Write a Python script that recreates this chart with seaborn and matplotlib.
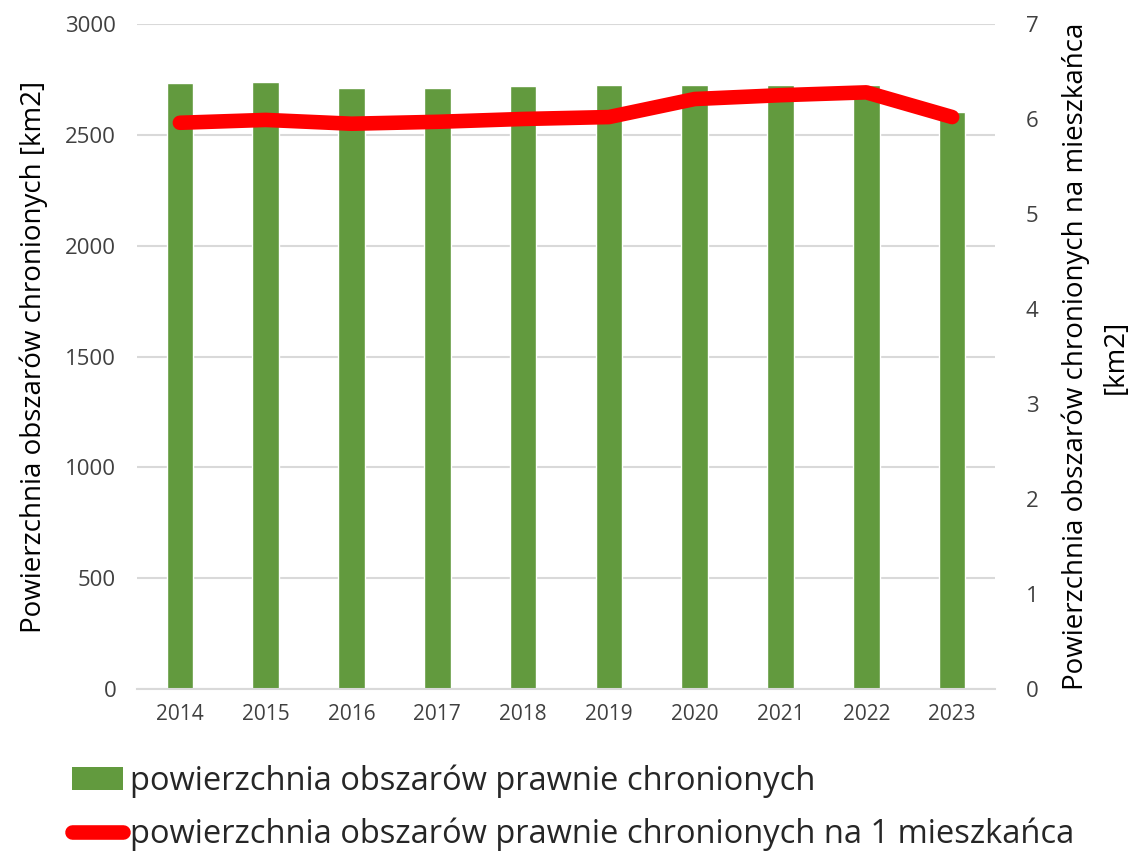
import matplotlib
matplotlib.use("Agg")
import matplotlib.pyplot as plt
import seaborn as sns
import pandas as pd
from matplotlib.lines import Line2D
from matplotlib.patches import Patch

years = ["2014", "2015", "2016", "2017", "2018", "2019", "2020", "2021", "2022", "2023"]
area = [2732, 2738, 2713, 2713, 2719, 2726, 2726, 2726, 2726, 2604]
per_capita = [5.96, 5.99, 5.95, 5.97, 6.00, 6.02, 6.21, 6.25, 6.28, 6.02]

bar_label = "powierzchnia obszarów prawnie chronionych"
line_label = "powierzchnia obszarów prawnie chronionych na 1 mieszkańca"

sns.set_theme(style="white")
plt.rcParams['font.family'] = ['Open Sans', 'DejaVu Sans']

df = pd.DataFrame({"year": years, "area": area, "pc": per_capita})

fig = plt.figure(figsize=(11.32, 8.55), dpi=100)
ax = fig.add_axes([0.121, 0.194, 0.758, 0.778])

sns.barplot(data=df, x="year", y="area", color="#629a3e", saturation=1, width=0.31, ax=ax)
ax.set_ylim(0, 3000)
ax.set_xlim(-0.5, 9.5)
ax.set_yticks(range(0, 3001, 500))
ax.yaxis.grid(True, color="#d9d9d9", linewidth=1.5)
ax.set_axisbelow(True)
for s in ["top", "right", "left"]:
    ax.spines[s].set_visible(False)
ax.spines["bottom"].set_color("#d9d9d9")
ax.spines["bottom"].set_linewidth(1.5)
ax.tick_params(axis="both", length=0, colors="#404040")
ax.tick_params(axis="y", pad=15, labelsize=16)
ax.tick_params(axis="x", pad=11, labelsize=15)
ax.set_xlabel("")
ax.set_ylabel("Powierzchnia obszarów chronionych [km2]", fontsize=20, color="#000000", labelpad=12)

ax2 = ax.twinx()
sns.lineplot(x=list(range(len(years))), y=per_capita, ax=ax2, color="#ff0000",
             linewidth=10.5, solid_capstyle="round", solid_joinstyle="round")
ax2.set_ylim(0, 7)
ax2.set_yticks(range(0, 8))
for s in ["top", "right", "left", "bottom"]:
    ax2.spines[s].set_visible(False)
ax2.tick_params(axis="y", length=0, labelsize=16, colors="#404040", pad=22)
ax2.set_ylabel("Powierzchnia obszarów chronionych na mieszkańca\n[km2]", fontsize=20,
               color="#000000", rotation=90, labelpad=17, linespacing=1.55)
ax2.grid(False)

handles = [Patch(facecolor="#629a3e", edgecolor="none"),
           Line2D([0], [0], color="#ff0000", linewidth=10.5, solid_capstyle="round")]
leg = fig.legend(handles, [bar_label, line_label], loc="upper left",
                 bbox_to_anchor=(0.064, 0.106), frameon=False, fontsize=23.5,
                 handlelength=1.55, handletextpad=0.2, labelspacing=0.6,
                 borderaxespad=0, borderpad=0)

fig.savefig("out.png", dpi=100)
